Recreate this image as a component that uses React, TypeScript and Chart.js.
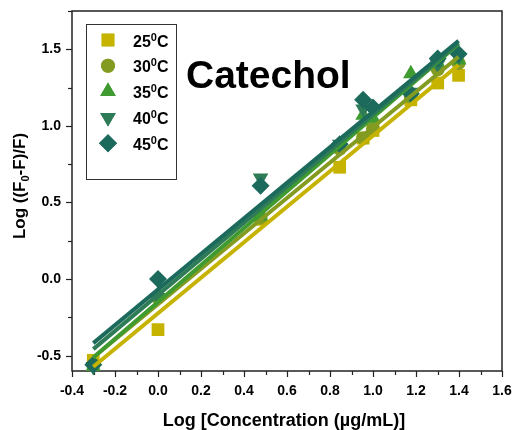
import React, { useEffect, useRef } from "react";
import { Chart, registerables } from "chart.js";
import { drawPoint } from "chart.js/helpers";

Chart.register(...registerables);

// ---- data ----
const xValues = [-0.301, 0, 0.477, 0.845, 0.954, 1.0, 1.176, 1.301, 1.398];
const tempLabels = ["25", "30", "35", "40", "45"];
const y25 = [-0.53, -0.33, 0.39, 0.73, 0.92, 0.97, 1.17, 1.28, 1.33];
const y30 = [-0.56, -0.12, 0.4, 0.85, 0.92, 0.98, 1.19, 1.37, 1.41];
const y35 = [-0.57, -0.1, 0.41, 0.87, 1.07, 1.05, 1.34, 1.41, 1.43];
const y40 = [-0.57, -0.12, 0.66, 0.88, 1.11, 1.1, 1.22, 1.4, 1.45];
const y45 = [-0.56, 0.0, 0.61, 0.88, 1.17, 1.12, 1.21, 1.44, 1.47];
const seriesY = [y25, y30, y35, y40, y45];
const xTicks = [-0.4, -0.2, 0, 0.2, 0.4, 0.6, 0.8, 1.0, 1.2, 1.4, 1.6];
const yTicks = [-0.5, 0, 0.5, 1.0, 1.5];
const xMinorStep = 0.1;
const yMinorStep = 0.25;

// ---- styles ----
const colors = ["#C6B300", "#849B22", "#3F9B30", "#2E7C57", "#1C6A5C"];
const pointStyles = ["rect", "circle", "triangle", "triangle", "rectRot"];
const rotations = [0, 0, 0, 180, 0];
const radii = [9, 7, 9, 9, 9];
const FONT = 'Arial, "Liberation Sans", sans-serif';

function fit(xs: number[], ys: number[]) {
  const n = xs.length;
  const mx = xs.reduce((a, b) => a + b, 0) / n;
  const my = ys.reduce((a, b) => a + b, 0) / n;
  let sxy = 0;
  let sxx = 0;
  for (let i = 0; i < n; i++) {
    sxy += (xs[i] - mx) * (ys[i] - my);
    sxx += (xs[i] - mx) * (xs[i] - mx);
  }
  const b = sxy / sxx;
  return { a: my - b * mx, b };
}

const decorPlugin = {
  id: "decor",
  beforeDatasetsDraw(chart: any) {
    const { ctx, chartArea } = chart;
    const xs = chart.scales.x;
    const ys = chart.scales.y;
    ctx.save();
    ctx.strokeStyle = "#222";
    ctx.lineWidth = 1.5;
    ctx.strokeRect(chartArea.left, chartArea.top, chartArea.right - chartArea.left, chartArea.bottom - chartArea.top);
    ctx.lineWidth = 1.2;
    const nX = Math.round((xs.max - xs.min) / xMinorStep);
    for (let i = 0; i <= nX; i++) {
      const v = xs.min + i * xMinorStep;
      const px = Math.round(xs.getPixelForValue(v)) + 0.5;
      const major = i % 2 === 0;
      ctx.beginPath();
      ctx.moveTo(px, chartArea.bottom);
      ctx.lineTo(px, chartArea.bottom + (major ? 6 : 4));
      ctx.stroke();
    }
    const startY = yTicks[0];
    for (let v = startY, i = 0; v <= ys.max + 1e-9; i++, v = startY + i * yMinorStep) {
      const py = Math.round(ys.getPixelForValue(v)) + 0.5;
      const major = i % 2 === 0;
      ctx.beginPath();
      ctx.moveTo(chartArea.left, py);
      ctx.lineTo(chartArea.left - (major ? 6 : 4), py);
      ctx.stroke();
    }
    ctx.restore();
  },
  afterDraw(chart: any) {
    const { ctx } = chart;
    ctx.save();
    ctx.strokeStyle = "#333";
    ctx.lineWidth = 1;
    ctx.strokeRect(86.5, 24.5, 90, 155);
    for (let i = 0; i < tempLabels.length; i++) {
      const cy = 40 + i * 25.8;
      ctx.fillStyle = colors[i];
      ctx.strokeStyle = colors[i];
      drawPoint(ctx, { pointStyle: pointStyles[i], rotation: rotations[i], radius: radii[i], borderWidth: 0 }, 108, cy);
      ctx.fill();
      ctx.fillStyle = "#000";
      ctx.textBaseline = "alphabetic";
      ctx.textAlign = "left";
      ctx.font = `bold 16px ${FONT}`;
      let tx = 133;
      const base = cy + 6.5;
      ctx.fillText(tempLabels[i], tx, base);
      tx += ctx.measureText(tempLabels[i]).width;
      ctx.font = `bold 11px ${FONT}`;
      ctx.fillText("0", tx, base - 6);
      tx += ctx.measureText("0").width;
      ctx.font = `bold 16px ${FONT}`;
      ctx.fillText("C", tx, base);
    }
    ctx.fillStyle = "#000";
    ctx.font = `bold 39px ${FONT}`;
    ctx.fillText("Catechol", 186, 88);
    ctx.font = `bold 18px ${FONT}`;
    ctx.textAlign = "center";
    ctx.fillText("Log [Concentration (\u00b5g/mL)]", 284, 426);
    ctx.translate(25, 186);
    ctx.rotate(-Math.PI / 2);
    ctx.textAlign = "left";
    const p1 = "Log ((F";
    const p2 = "0";
    const p3 = "-F)/F)";
    ctx.font = `bold 17px ${FONT}`;
    const w1 = ctx.measureText(p1).width;
    const w3 = ctx.measureText(p3).width;
    ctx.font = `bold 11px ${FONT}`;
    const w2 = ctx.measureText(p2).width;
    let sx = -(w1 + w2 + w3) / 2;
    ctx.font = `bold 17px ${FONT}`;
    ctx.fillText(p1, sx, 0);
    sx += w1;
    ctx.font = `bold 11px ${FONT}`;
    ctx.fillText(p2, sx, 4);
    sx += w2;
    ctx.font = `bold 17px ${FONT}`;
    ctx.fillText(p3, sx, 0);
    ctx.restore();
  },
};

export default function App() {
  const ref = useRef<HTMLCanvasElement | null>(null);
  useEffect(() => {
    if (!ref.current) return;
    const minX = Math.min(...xValues);
    const maxX = Math.max(...xValues);
    const pointSets: any[] = [];
    const lineSets: any[] = [];
    seriesY.forEach((ys, i) => {
      const f = fit(xValues, ys);
      lineSets.push({
        type: "line",
        label: tempLabels[i] + " fit",
        data: [
          { x: minX, y: f.a + f.b * minX },
          { x: maxX, y: f.a + f.b * maxX },
        ],
        borderColor: colors[i],
        borderWidth: 4,
        pointRadius: 0,
        showLine: true,
        fill: false,
        clip: false,
        order: 4 - i,
      });
      pointSets.push({
        type: "scatter",
        label: tempLabels[i],
        data: xValues.map((x, j) => ({ x, y: ys[j] })),
        backgroundColor: colors[i],
        borderColor: colors[i],
        borderWidth: 0,
        pointStyle: pointStyles[i],
        rotation: rotations[i],
        pointRadius: radii[i],
        clip: false,
        order: 10 + (4 - i),
      });
    });
    const chart = new Chart(ref.current, {
      type: "scatter",
      data: { datasets: [...lineSets, ...pointSets] },
      options: {
        animation: false,
        responsive: false,
        devicePixelRatio: 1,
        layout: { padding: { left: 0, top: 11, right: 13, bottom: 0 } },
        plugins: { legend: { display: false }, tooltip: { enabled: false }, title: { display: false } },
        scales: {
          x: {
            type: "linear",
            min: -0.4,
            max: 1.6,
            grid: { display: false, drawTicks: false },
            border: { display: false },
            afterBuildTicks: (s: any) => {
              s.ticks = xTicks.map((v) => ({ value: v }));
            },
            afterFit: (s: any) => {
              s.height = 59;
              s.paddingLeft = 0;
              s.paddingRight = 0;
            },
            ticks: {
              color: "#000",
              padding: 12,
              maxRotation: 0,
              autoSkip: false,
              font: { family: FONT, size: 14, weight: "bold" },
              callback: (v: any) => Number(v).toFixed(1),
            },
          },
          y: {
            type: "linear",
            min: -0.6,
            max: 1.75,
            grid: { display: false, drawTicks: false },
            border: { display: false },
            afterBuildTicks: (s: any) => {
              s.ticks = yTicks.map((v) => ({ value: v }));
            },
            afterFit: (s: any) => {
              s.width = 72;
              s.paddingTop = 0;
              s.paddingBottom = 0;
            },
            ticks: {
              color: "#000",
              padding: 11,
              autoSkip: false,
              font: { family: FONT, size: 14, weight: "bold" },
              callback: (v: any) => Number(v).toFixed(1),
            },
          },
        },
      } as any,
      plugins: [decorPlugin],
    });
    return () => chart.destroy();
  }, []);
  return (
    <div style={{ position: "fixed", left: 0, top: 0, width: 515, height: 430, background: "#fff" }}>
      <canvas ref={ref} width={515} height={430} style={{ display: "block" }} />
    </div>
  );
}
